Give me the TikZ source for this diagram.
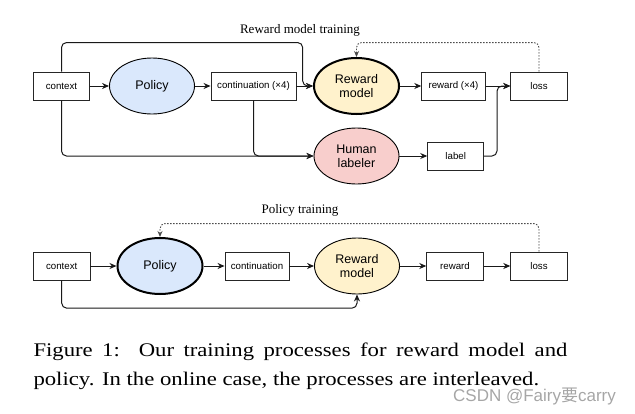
\documentclass[tikz,border=0pt]{standalone}
\usepackage{fontspec}
\setmainfont{Liberation Serif}
\setsansfont{Liberation Sans}
\newfontfamily\capfont[FakeStretch=1.177]{Liberation Serif}
\newfontfamily\cjkfont{Noto Sans CJK SC}
\usetikzlibrary{shapes.geometric,arrows.meta}
\definecolor{pblue}{HTML}{DAE8FC}
\definecolor{ryellow}{HTML}{FFF2CC}
\definecolor{hred}{HTML}{F8CECC}
\begin{document}
\begin{tikzpicture}[x=1pt,y=-1pt,
  box/.style={draw=black!85, line width=0.9pt, minimum height=28pt, inner sep=0pt,
    font=\sffamily\fontsize{9.7}{11}\selectfont, fill=white},
  oval/.style={ellipse, draw=black, line width=0.9pt, minimum width=85pt, minimum height=56pt,
    inner sep=0pt, align=center, font=\sffamily\fontsize{12.5}{14.3}\selectfont},
  thickoval/.style={oval, line width=2pt},
  arr/.style={-{Stealth[length=7pt,width=6pt]}, line width=1pt, draw=black!90},
  fb/.style={-{Stealth[length=6pt,width=5pt]}, line width=0.9pt, draw=black!70, dash pattern=on 1.5pt off 1.5pt},
  rc/.style={rounded corners=5pt},
  title/.style={font=\fontsize{13}{15}\selectfont}
]
\useasboundingbox (0,0) rectangle (635,413);

% titles
\node[title, anchor=base] (t1) at (300,33) {Reward model training};
\node[title, anchor=base] (t2) at (300,213) {Policy training};

% top diagram
\node[box, minimum width=56pt] (c1) at (61.5,86) {context};
\node[oval, fill=pblue] (p1) at (152,86) {Policy};
\node[box, minimum width=85pt] (k1) at (253.5,86) {continuation (×4)};
\node[thickoval, fill=ryellow] (r1) at (356.5,86) {Reward\\model};
\node[box, minimum width=63.5pt] (w1) at (453.5,86) {reward (×4)};
\node[box, minimum width=56.5pt] (l1) at (539,86) {loss};
\node[oval, fill=hred] (h1) at (356.5,156) {Human\\labeler};
\node[box, minimum width=56pt] (b1) at (455.7,156) {label};

\draw[arr] (c1) -- (p1);
\draw[arr] (p1) -- (k1);
\draw[arr] (k1) -- (r1);
\draw[arr, rc] (c1.north) -- ++(0,-29) -| (302.7,86) -- (r1.west);
\draw[arr, rc] (c1.south) |- (h1.west);
\draw[arr, rc] (k1.south) |- (h1.west);
\draw[arr] (r1) -- (w1);
\draw[arr] (w1) -- (l1);
\draw[arr] (h1) -- (b1);
\draw[arr, rc] (b1.east) -| (497,86) -- (l1.west);
\draw[fb, rc] (l1.north) -- ++(0,-29) -| (r1.north);

% bottom diagram
\node[box, minimum width=56.5pt] (c2) at (61.7,266) {context};
\node[thickoval, fill=pblue] (p2) at (160,266) {Policy};
\node[box, minimum width=64pt] (k2) at (257,266) {continuation};
\node[oval, fill=ryellow] (r2) at (357,266) {Reward\\model};
\node[box, minimum width=56.5pt] (w2) at (455,266) {reward};
\node[box, minimum width=56.5pt] (l2) at (539,266) {loss};

\draw[arr] (c2) -- (p2);
\draw[arr] (p2) -- (k2);
\draw[arr] (k2) -- (r2);
\draw[arr] (r2) -- (w2);
\draw[arr] (w2) -- (l2);
\draw[arr, rc] (c2.south) -- ++(0,27.7) -| (r2.south);
\draw[fb, rc] (l2.north) -- ++(0,-28) -| (p2.north);

% caption
\node[anchor=base west, inner sep=0pt] (cap1) at (33.3,356.7)
  {\capfont\fontsize{19.3}{28.3}\selectfont\makebox[534pt][s]{Figure 1:\ \ Our training processes for reward model and}};
\node[anchor=base west, inner sep=0pt] (cap2) at (33.3,385)
  {\capfont\fontsize{19.3}{28.3}\selectfont policy. In the online case, the processes are interleaved.};

% watermark
\node[anchor=base west, inner sep=0pt, text=black!35, font=\sffamily\fontsize{17}{20}\selectfont] (wm) at (453,401)
  {CSDN @Fairy{\cjkfont 要}carry};
\end{tikzpicture}
\end{document}
